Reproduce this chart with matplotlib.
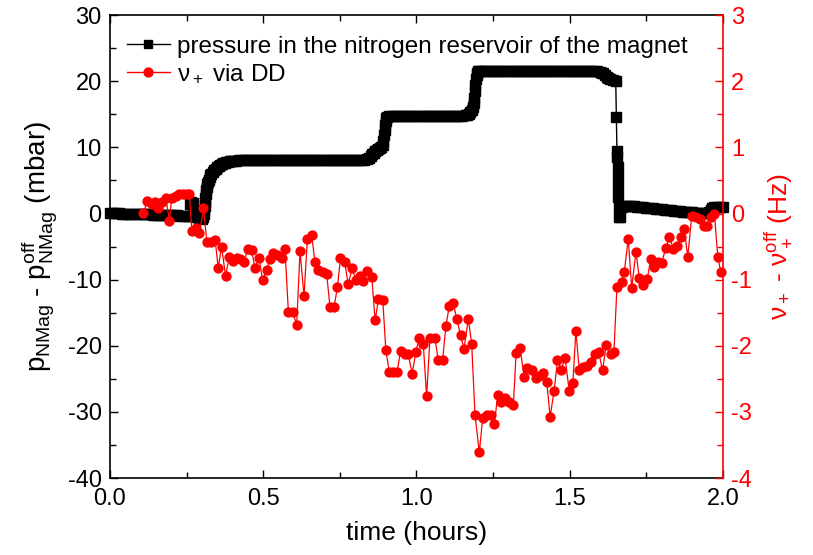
import matplotlib
matplotlib.use("Agg")
import matplotlib.pyplot as plt
from matplotlib.ticker import MultipleLocator
from matplotlib.lines import Line2D

plt.rcParams['font.family'] = ['Liberation Sans', 'DejaVu Sans']
plt.rcParams['mathtext.fontset'] = 'custom'
plt.rcParams['mathtext.rm'] = 'Liberation Sans'
plt.rcParams['mathtext.it'] = 'Liberation Sans'
plt.rcParams['mathtext.bf'] = 'Liberation Sans:bold'
plt.rcParams['axes.unicode_minus'] = False

# Pressure in the nitrogen reservoir (mbar, relative to offset)
p_time = [
    0.00, 0.01, 0.02, 0.03, 0.04, 0.05, 0.06, 0.07, 0.08, 0.09,
    0.10, 0.11, 0.12, 0.13, 0.14, 0.15, 0.16, 0.17, 0.18, 0.19,
    0.20, 0.21, 0.22, 0.23, 0.24, 0.25, 0.26, 0.262, 0.265, 0.27,
    0.272, 0.275, 0.28, 0.29, 0.30, 0.305, 0.307, 0.308, 0.309, 0.31,
    0.311, 0.312, 0.313, 0.315, 0.317, 0.32, 0.322, 0.325, 0.327, 0.33,
    0.335, 0.34, 0.345, 0.35, 0.355, 0.36, 0.365, 0.37, 0.375, 0.38,
    0.385, 0.39, 0.395, 0.40,
    0.41, 0.42, 0.43, 0.44, 0.45, 0.46, 0.47, 0.48, 0.49, 0.50,
    0.51, 0.52, 0.53, 0.54, 0.55, 0.56, 0.57, 0.58, 0.59, 0.60,
    0.61, 0.62, 0.63, 0.64, 0.65, 0.66, 0.67, 0.68, 0.69, 0.70,
    0.71, 0.72, 0.73, 0.74, 0.75, 0.76, 0.77, 0.78, 0.79, 0.80,
    0.81, 0.82, 0.83, 0.84, 0.845, 0.85, 0.855, 0.86, 0.865, 0.87,
    0.875, 0.88, 0.885, 0.89, 0.892, 0.894, 0.896, 0.898, 0.90, 0.902,
    0.905, 0.91, 0.92, 0.93, 0.94, 0.95, 0.96, 0.97,
    0.98, 0.99, 1.00, 1.01, 1.02, 1.03, 1.04, 1.05, 1.06, 1.07,
    1.08, 1.09, 1.10, 1.11, 1.12, 1.13, 1.14, 1.15, 1.16, 1.165,
    1.17, 1.175, 1.18, 1.183, 1.186, 1.188, 1.19, 1.192, 1.194, 1.196,
    1.198, 1.20, 1.205, 1.21, 1.22, 1.23, 1.24,
    1.25, 1.26, 1.27, 1.28, 1.29, 1.30, 1.31, 1.32, 1.33, 1.34,
    1.35, 1.36, 1.37, 1.38, 1.39, 1.40, 1.41, 1.42, 1.43, 1.44,
    1.45, 1.46, 1.47, 1.48, 1.49, 1.50, 1.51, 1.52, 1.53, 1.54,
    1.55, 1.56, 1.57, 1.58, 1.59, 1.60, 1.605, 1.61, 1.615, 1.62,
    1.625, 1.63, 1.64,
    1.65, 1.652, 1.654, 1.655, 1.656, 1.657, 1.658, 1.659, 1.66, 1.662,
    1.665, 1.67, 1.675, 1.68, 1.69, 1.70, 1.71, 1.72, 1.73, 1.74, 1.75,
    1.76, 1.77, 1.78, 1.79, 1.80, 1.81, 1.82, 1.83, 1.84, 1.85,
    1.86, 1.87, 1.88, 1.89, 1.90, 1.91, 1.92, 1.93, 1.94, 1.95,
    1.955, 1.96, 1.965, 1.97, 1.98, 1.99, 2.00,
]
p_mbar = [
    0.1, 0.1, 0.05, 0.05, 0.0, 0.0, 0.0, -0.05, -0.05, -0.05,
    -0.1, -0.1, -0.1, -0.1, -0.15, -0.15, -0.15, -0.2, -0.2, -0.2,
    -0.25, -0.25, -0.25, -0.3, -0.3, -0.3, -0.35, 1.5, 1.8, 1.6,
    0.2, -0.3, -0.5, -0.7, -0.8, -0.6, 0.0, 0.5, 1.2, 1.8,
    2.4, 3.0, 3.5, 4.0, 4.4, 4.8, 5.1, 5.5, 5.8, 6.0,
    6.3, 6.6, 6.8, 7.0, 7.2, 7.4, 7.5, 7.6, 7.7, 7.8,
    7.85, 7.9, 7.95, 8.0,
    8.0, 8.05, 8.05, 8.05, 8.05, 8.05, 8.05, 8.05, 8.05, 8.05,
    8.05, 8.05, 8.05, 8.05, 8.05, 8.05, 8.05, 8.05, 8.05, 8.05,
    8.05, 8.05, 8.05, 8.05, 8.05, 8.05, 8.05, 8.05, 8.05, 8.05,
    8.05, 8.05, 8.05, 8.05, 8.05, 8.05, 8.05, 8.05, 8.05, 8.05,
    8.05, 8.1, 8.1, 8.2, 8.4, 8.7, 9.0, 9.2, 9.4, 9.6,
    9.8, 9.9, 10.1, 10.3, 11.0, 11.8, 12.6, 13.4, 14.0, 14.4,
    14.6, 14.7, 14.7, 14.7, 14.7, 14.7, 14.7, 14.7,
    14.7, 14.7, 14.7, 14.7, 14.7, 14.7, 14.7, 14.7, 14.7, 14.7,
    14.7, 14.7, 14.75, 14.75, 14.75, 14.75, 14.8, 14.8, 14.85, 14.9,
    15.0, 15.3, 15.7, 16.1, 16.7, 17.5, 18.5, 19.5, 20.3, 20.9,
    21.3, 21.5, 21.6, 21.6, 21.5, 21.5, 21.5,
    21.5, 21.5, 21.5, 21.5, 21.5, 21.5, 21.5, 21.5, 21.5, 21.5,
    21.5, 21.5, 21.5, 21.5, 21.5, 21.5, 21.5, 21.5, 21.5, 21.5,
    21.5, 21.5, 21.5, 21.5, 21.5, 21.5, 21.5, 21.5, 21.5, 21.5,
    21.5, 21.5, 21.5, 21.5, 21.5, 21.4, 21.3, 21.2, 21.0, 20.7,
    20.5, 20.3, 20.2,
    20.1, 14.6, 9.5, 8.5, 7.0, 5.5, 4.0, 2.5, 1.0, -0.5,
    -0.6, 1.0, 1.15, 1.2, 1.2, 1.15, 1.1, 1.05, 1.0, 0.95, 0.9,
    0.85, 0.8, 0.75, 0.7, 0.65, 0.6, 0.55, 0.5, 0.45, 0.4,
    0.35, 0.3, 0.25, 0.2, 0.2, 0.15, 0.15, 0.1, 0.1, 0.1,
    0.3, 0.6, 0.9, 1.0, 1.0, 1.0, 1.0,
]

# Modified cyclotron frequency shift measured via DD (Hz)
nu_time = [
    0.109, 0.122, 0.136, 0.147, 0.158, 0.169, 0.182, 0.194, 0.201, 0.215,
    0.226, 0.239, 0.252, 0.259, 0.267, 0.281, 0.292, 0.305, 0.316, 0.330,
    0.343, 0.353, 0.364, 0.377, 0.389, 0.400, 0.413, 0.424, 0.437, 0.449,
    0.462, 0.473, 0.486, 0.498, 0.511, 0.522, 0.533, 0.546, 0.560, 0.571,
    0.582, 0.596, 0.609, 0.620, 0.633, 0.644, 0.658, 0.669, 0.680, 0.694,
    0.707, 0.718, 0.731, 0.742, 0.752, 0.766, 0.777, 0.790, 0.803, 0.816,
    0.827, 0.840, 0.854, 0.865, 0.876, 0.890, 0.900, 0.911, 0.924, 0.937,
    0.948, 0.962, 0.973, 0.986, 0.998, 1.009, 1.022, 1.033, 1.044, 1.060,
    1.071, 1.085, 1.096, 1.107, 1.120, 1.131, 1.144, 1.155, 1.169, 1.180,
    1.191, 1.205, 1.216, 1.229, 1.242, 1.254, 1.265, 1.276, 1.289, 1.302,
    1.316, 1.325, 1.338, 1.351, 1.362, 1.376, 1.389, 1.400, 1.412, 1.425,
    1.436, 1.449, 1.460, 1.472, 1.485, 1.498, 1.510, 1.520, 1.531, 1.544,
    1.557, 1.569, 1.582, 1.594, 1.607, 1.619, 1.633, 1.644, 1.654, 1.669,
    1.678, 1.691, 1.702, 1.716, 1.727, 1.740, 1.753, 1.764, 1.776, 1.789,
    1.800, 1.813, 1.825, 1.838, 1.851, 1.863, 1.874, 1.885, 1.898, 1.912,
    1.925, 1.938, 1.949, 1.960, 1.972, 1.983, 1.993,
]
nu_hz = [
    0.01, 0.19, 0.14, 0.17, 0.08, 0.17, 0.24, -0.11, 0.24, 0.27,
    0.29, 0.29, 0.30, 0.30, -0.27, -0.22, -0.30, 0.08, -0.43, -0.43,
    -0.40, -0.82, -0.50, -0.94, -0.66, -0.72, -0.68, -0.69, -0.74, -0.54,
    -0.55, -0.83, -0.67, -1.01, -0.86, -0.69, -0.59, -0.62, -0.68, -0.54,
    -1.49, -1.49, -1.68, -0.57, -1.25, -0.38, -0.33, -0.74, -0.86, -0.89,
    -0.92, -1.42, -1.42, -1.11, -0.68, -0.74, -1.07, -0.83, -1.01, -0.94,
    -1.02, -0.87, -0.96, -1.61, -1.30, -1.31, -2.07, -2.39, -2.39, -2.39,
    -2.08, -2.13, -2.13, -2.42, -2.09, -1.88, -1.97, -2.76, -1.88, -1.88,
    -2.22, -2.22, -1.70, -1.40, -1.35, -1.59, -1.84, -2.05, -1.59, -1.97,
    -3.05, -3.61, -3.09, -3.05, -3.05, -3.19, -2.74, -2.85, -2.79, -2.85,
    -2.90, -2.11, -2.03, -2.47, -2.34, -2.37, -2.48, -2.46, -2.41, -2.55,
    -3.07, -2.68, -2.22, -2.36, -2.18, -2.68, -2.56, -1.78, -2.36, -2.32,
    -2.31, -2.24, -2.12, -2.09, -2.37, -1.99, -2.12, -2.10, -1.11, -1.03,
    -0.88, -0.38, -1.13, -0.58, -0.98, -1.08, -0.99, -0.69, -0.81, -0.74,
    -0.75, -0.52, -0.35, -0.54, -0.49, -0.35, -0.24, -0.66, -0.03, -0.06,
    -0.08, -0.19, -0.19, -0.06, -0.01, -0.66, -0.89,
]

label_p = 'pressure in the nitrogen reservoir of the magnet'
label_nu = 'ν$_+$ via DD'

fig = plt.figure(figsize=(8.13, 5.55), dpi=100)
ax = fig.add_axes([0.1353, 0.1387, 0.754, 0.834])
ax2 = ax.twinx()

ax.plot(p_time, p_mbar, color='black', lw=1.0, marker='s', ms=6.5,
        mec='black', mfc='black', clip_on=False)
ax2.plot(nu_time, nu_hz, color='red', lw=0.9, marker='o', ms=6.4,
         mec='red', mfc='red', clip_on=False)

ax.set_xlim(0, 2.0)
ax.set_ylim(-40, 30)
ax2.set_ylim(-4, 3)

ax.xaxis.set_major_locator(MultipleLocator(0.5))
ax.xaxis.set_minor_locator(MultipleLocator(0.25))
ax.yaxis.set_major_locator(MultipleLocator(10))
ax.yaxis.set_minor_locator(MultipleLocator(5))
ax2.yaxis.set_major_locator(MultipleLocator(1))
ax2.yaxis.set_minor_locator(MultipleLocator(0.5))
ax.xaxis.set_major_formatter(plt.FormatStrFormatter('%.1f'))

tick_fs = 17
ax.tick_params(axis='x', which='both', direction='in', top=True, bottom=True,
               labelsize=tick_fs, pad=7, width=1.0)
ax.tick_params(axis='y', which='both', direction='in', left=True, right=False,
               labelsize=tick_fs, pad=6, width=1.0)
ax.tick_params(which='major', length=6)
ax.tick_params(which='minor', length=4)
ax2.tick_params(axis='y', which='both', direction='in', colors='red',
                labelsize=tick_fs, pad=6, width=1.0)
ax2.tick_params(which='major', length=6)
ax2.tick_params(which='minor', length=4)

for s in ax.spines.values():
    s.set_linewidth(1.2)
for name, s in ax2.spines.items():
    s.set_linewidth(1.2)
    if name != 'right':
        s.set_visible(False)
ax2.spines['right'].set_color('red')
ax.spines['right'].set_visible(False)

ax.set_xlabel('time (hours)', fontsize=19, labelpad=8)
ax.set_ylabel('p$_{\\mathrm{NMag}}$ - p$_{\\mathrm{NMag}}^{\\mathrm{off}}$ (mbar)',
              fontsize=20, labelpad=6)
ax2.set_ylabel('ν$_+$ - ν$_+^{\\mathrm{off}}$ (Hz)', fontsize=19, color='red',
               labelpad=8)

handles = [
    Line2D([], [], color='black', lw=1.0, marker='s', ms=5.5),
    Line2D([], [], color='red', lw=1.0, marker='o', ms=6.4),
]
ax2.legend(handles, [label_p, label_nu], loc='upper left', frameon=False,
           fontsize=17.5, handlelength=1.75, handletextpad=0.3,
           borderaxespad=0.45, labelspacing=0.2,
           bbox_to_anchor=(-0.006, 1.0))

fig.savefig('out.png', dpi=100)
